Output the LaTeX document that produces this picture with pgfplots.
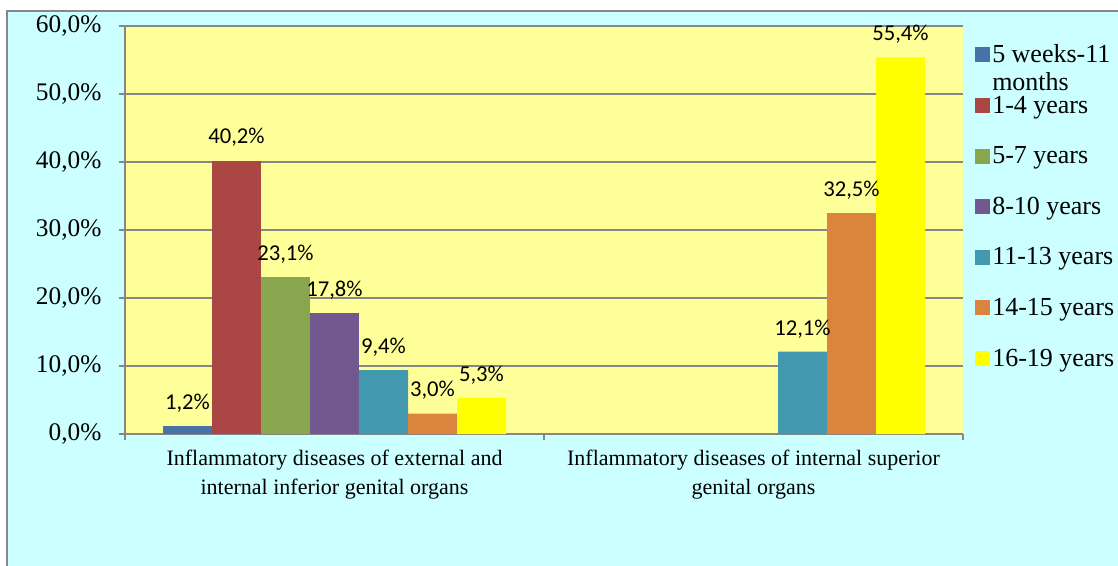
\documentclass[border=0pt]{standalone}
\usepackage{fontspec}
\setmainfont{Liberation Serif}
\newfontfamily\carlito{Carlito}
\usepackage{pgfplots}
\pgfplotsset{compat=1.18}
\definecolor{bgc}{HTML}{CCFFFF}
\definecolor{plotbg}{HTML}{FFFF99}
\definecolor{gridc}{HTML}{868686}
\definecolor{c1}{HTML}{4572A7}
\definecolor{c2}{HTML}{AA4643}
\definecolor{c3}{HTML}{89A54E}
\definecolor{c4}{HTML}{71588F}
\definecolor{c5}{HTML}{4198AF}
\definecolor{c6}{HTML}{DB843D}
\definecolor{c7}{HTML}{FFFF00}
\begin{document}
\begin{tikzpicture}
\path[use as bounding box] (-93.75pt,-98.25pt) rectangle (744.75pt,325.5pt);
\fill[white] (-93.75pt,-98.25pt) rectangle (744.75pt,325.5pt);
\filldraw[fill=bgc, draw=gridc, line width=1.5pt] (-88.5pt,-110pt) rectangle (760pt,317.25pt);
\begin{axis}[
  at={(0,0)}, anchor=south west,
  scale only axis, width=628.5pt, height=306pt,
  xmin=-0.5, xmax=1.5, ymin=0, ymax=60,
  clip=false,
  axis background/.style={fill=plotbg},
  axis x line=bottom, axis y line=left,
  axis line style={-, draw=gridc, line width=1.5pt},
  ybar=0pt, bar width=36.75pt,
  ymajorgrids, major grid style={draw=gridc, line width=1.5pt},
  tick align=outside, major tick length=4.5pt,
  tick style={draw=gridc, line width=1.5pt},
  ytick={0,10,20,30,40,50,60},
  yticklabels={{0,0\%},{10,0\%},{20,0\%},{30,0\%},{40,0\%},{50,0\%},{60,0\%}},
  yticklabel style={font=\fontsize{19}{20}\selectfont, inner sep=0pt, xshift=-13pt},
  xtick={-0.5,0.5,1.5},
  xticklabels={{},{},{}},
  extra x ticks={0,1},
  extra x tick labels={{Inflammatory diseases of external and\\internal inferior genital organs},{Inflammatory diseases of internal superior\\genital organs}},
  extra x tick style={major tick length=0pt, grid=none,
     xticklabel style={font=\fontsize{16.5}{21.75}\selectfont, align=center, inner sep=0pt, yshift=-12pt}},
  nodes near coords={\pgfmathprintnumber[fixed,fixed zerofill,precision=1,use comma,assume math mode=true]{\pgfplotspointmeta}\%},
  every node near coord/.append style={font=\carlito\fontsize{17}{19}\selectfont, anchor=base, yshift=12.5pt, inner sep=0pt, text=black},
  legend image code/.code={\fill[#1] (0pt,-5.6pt) rectangle (11.25pt,5.6pt);},
  legend cell align=left,
  legend style={at={(rel axis cs:1.0143,0.963)}, anchor=north west, draw=none, fill=none,
     font=\fontsize{19.5}{21}\selectfont, row sep=20.5pt, inner sep=0pt,
     nodes={inner sep=1.5pt}},
]
\addplot[fill=c1, draw=none] coordinates {(0,1.2)};
\addplot[fill=c2, draw=none] coordinates {(0,40.2)};
\addplot[fill=c3, draw=none] coordinates {(0,23.1)};
\addplot[fill=c4, draw=none] coordinates {(0,17.8)};
\addplot[fill=c5, draw=none] coordinates {(0,9.4) (1,12.1)};
\addplot[fill=c6, draw=none] coordinates {(0,3.0) (1,32.5)};
\addplot[fill=c7, draw=none] coordinates {(0,5.3) (1,55.4)};
\legend{{\raisebox{0pt}[\height][0pt]{\begin{tabular}[t]{@{}l@{}}5 weeks-11\\months\end{tabular}}},1-4 years,5-7 years,8-10 years,11-13 years,14-15 years,16-19 years}
\end{axis}
\end{tikzpicture}
\end{document}
